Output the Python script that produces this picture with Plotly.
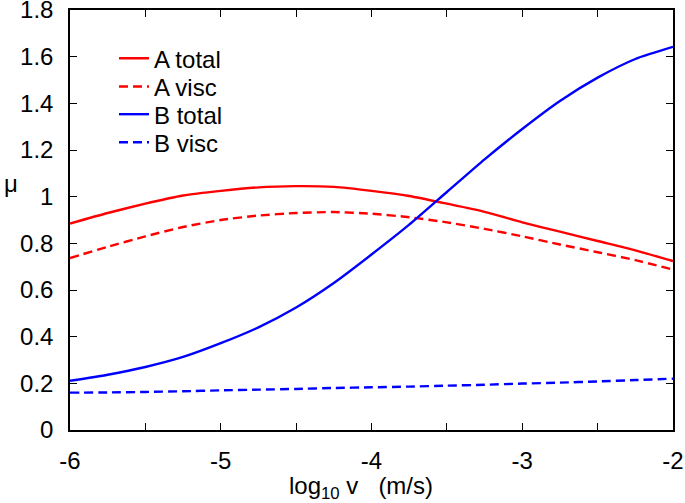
import plotly.graph_objects as go

# log10 velocity (m/s)
log_v = [-6.0, -5.75, -5.5, -5.25, -5.0, -4.75, -4.5, -4.25, -4.0,
         -3.75, -3.5, -3.25, -3.0, -2.75, -2.5, -2.25, -2.0]

a_total = [0.885, 0.93, 0.97, 1.005, 1.025, 1.04, 1.045, 1.042, 1.025,
           1.003, 0.97, 0.935, 0.89, 0.85, 0.81, 0.77, 0.724]
a_visc = [0.737, 0.785, 0.83, 0.87, 0.90, 0.919, 0.93, 0.934, 0.927,
          0.912, 0.89, 0.862, 0.83, 0.795, 0.762, 0.728, 0.687]
b_total = [0.211, 0.237, 0.27, 0.313, 0.372, 0.44, 0.525, 0.63, 0.752,
           0.88, 1.02, 1.16, 1.29, 1.41, 1.51, 1.59, 1.642]
b_visc = [0.160, 0.161, 0.163, 0.166, 0.170, 0.173, 0.176, 0.180, 0.183,
          0.186, 0.190, 0.194, 0.199, 0.203, 0.208, 0.214, 0.220]

x_tickvals = [-6, -5.5, -5, -4.5, -4, -3.5, -3, -2.5, -2]
x_ticktext = ["-6", "", "-5", "", "-4", "", "-3", "", "-2"]
y_tickvals = [0, 0.2, 0.4, 0.6, 0.8, 1.0, 1.2, 1.4, 1.6, 1.8]
y_ticktext = ["0", "0.2", "0.4", "0.6", "0.8", "1", "1.2", "1.4", "1.6", "1.8"]

FONT = "Liberation Sans"
FS = 24
RED = "#ff0000"
BLUE = "#0000ff"
DASH = "9px,5px"

fig = go.Figure()
series = [
    ("A total", a_total, RED, "solid"),
    ("A visc", a_visc, RED, DASH),
    ("B total", b_total, BLUE, "solid"),
    ("B visc", b_visc, BLUE, DASH),
]
# one legend per entry so the row spacing can match the original
legend_ids = ["legend", "legend2", "legend3", "legend4"]
legend_y = [0.884, 0.817, 0.751, 0.684]

for (name, ys, color, dash), lid in zip(series, legend_ids):
    fig.add_trace(go.Scatter(
        x=log_v, y=ys, mode="lines", name=name, legend=lid,
        line=dict(color=color, width=2.4, dash=dash, shape="spline", smoothing=0.6),
    ))

for lid, ly in zip(legend_ids, legend_y):
    fig.update_layout({lid: dict(
        x=0.073, y=ly, xanchor="left", yanchor="middle",
        bgcolor="rgba(0,0,0,0)", font=dict(family=FONT, size=FS),
        itemwidth=30,
    )})

axis_common = dict(
    showline=True, linecolor="black", linewidth=1.5, mirror="allticks",
    ticks="inside", ticklen=7, tickwidth=1.2, tickcolor="black",
    showgrid=False, zeroline=False, automargin=False,
    ticklabeloverflow="allow",
    tickfont=dict(family=FONT, size=FS, color="black"),
)

fig.update_layout(
    width=685, height=503,
    plot_bgcolor="white", paper_bgcolor="white",
    margin=dict(l=70, r=12, t=10, b=73),
    font=dict(family=FONT, size=FS, color="black"),
    xaxis=dict(range=[-6, -2], tickvals=x_tickvals, ticktext=x_ticktext,
               ticklabelstandoff=8, **axis_common),
    yaxis=dict(range=[0, 1.8], tickvals=y_tickvals, ticktext=y_ticktext,
               ticklabelstandoff=10, **axis_common),
    showlegend=True,
)

# axis titles as plain annotations (placed like the original)
fig.add_annotation(text="μ", xref="paper", yref="paper", x=-0.113, y=0.587,
                   showarrow=False, xanchor="left", yanchor="middle",
                   font=dict(family=FONT, size=FS, color="black"))
fig.add_annotation(text="log<sub>10</sub> v   (m/s)", xref="paper", yref="paper",
                   x=0.483, y=-0.136, showarrow=False,
                   xanchor="center", yanchor="middle",
                   font=dict(family=FONT, size=FS, color="black"))

fig.write_html("out.html", config={"displayModeBar": False},
               post_script="document.body.style.margin='0';")
